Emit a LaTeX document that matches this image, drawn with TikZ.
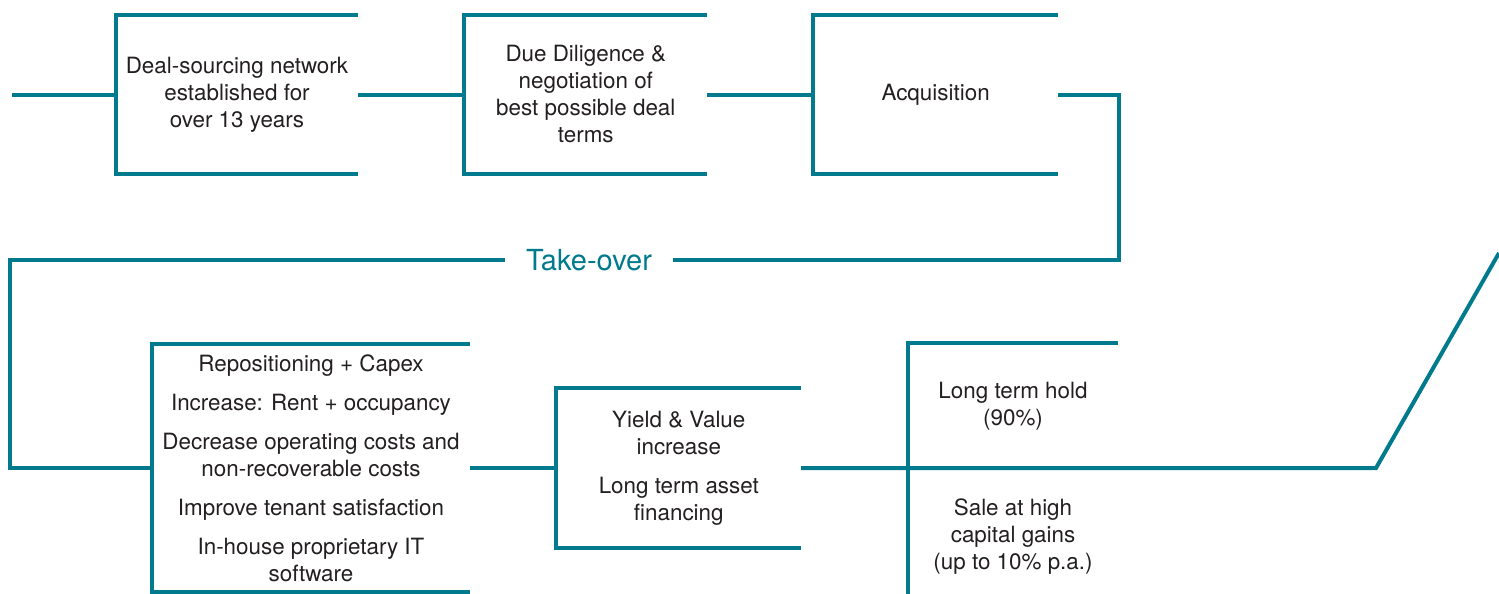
\documentclass[tikz,border=0pt]{standalone}
\usepackage{fontspec}
\setmainfont{TeX Gyre Heros}
\usetikzlibrary{positioning}

\definecolor{flowteal}{RGB}{0,122,140}
\definecolor{textgrey}{RGB}{35,31,32}

\begin{document}
\begin{tikzpicture}[x=0.5pt,y=-0.5pt,
    flow/.style={draw=flowteal,line width=2pt},
    stage/.style={minimum width=121pt,minimum height=79.5pt,inner sep=0pt,
        align=center,text=textgrey,font=\fontsize{11.2}{13.5}\selectfont},
    label/.style={inner sep=0pt,align=center,text=textgrey,
        font=\fontsize{11.2}{13.5}\selectfont}]
    \useasboundingbox (0,0) rectangle (1499,594);

    % top row
    \node[stage] (deal) at (237,94.5) {Deal-sourcing network\\ established for\\ over 13 years};
    \node[stage,right=53pt of deal] (diligence) {Due Diligence \&\\ negotiation of\\ best possible deal\\ terms};
    \node[stage,minimum width=122pt,right=53pt of diligence] (acquisition) {Acquisition};

    % take-over
    \node[inner sep=0pt,minimum width=84pt,text=flowteal,font=\fontsize{14.5}{17}\selectfont] (takeover) at (589,260) {Take-over};

    % bottom row
    \node[stage,minimum width=159pt,minimum height=124pt] (valueadd) at (311,468)
        {Repositioning + Capex\\[6pt]
         Increase: Rent + occupancy\\[6pt]
         Decrease operating costs and\\ non-recoverable costs\\[6pt]
         Improve tenant satisfaction\\[6pt]
         In-house proprietary IT\\ software};
    \node[stage,minimum width=122pt,right=43pt of valueadd] (yield)
        {Yield \& Value\\ increase\\[6pt] Long term asset\\ financing};
    \node[label,minimum width=105pt,minimum height=63pt] (hold) at (1013,406) {Long term hold\\ (90\%)};
    \node[label,minimum width=105pt,minimum height=57pt] (sale) at (1013,537) {Sale at high\\ capital gains\\ (up to 10\% p.a.)};

    \coordinate (start) at (12,94.5);
    \coordinate (turnR) at (1119,260);
    \coordinate (turnL) at (10,260);
    \coordinate (kink) at (1376,468);
    \coordinate (exit) at (1499,253);

    % brackets
    \foreach \b in {deal,diligence,acquisition,valueadd,yield}
        \draw[flow] (\b.north east) -- (\b.north west) -- (\b.south west) -- (\b.south east);
    \draw[flow] (hold.north east) -- (hold.north west) -- (sale.south west);

    % connectors
    \draw[flow] (start) -- (deal.west);
    \draw[flow] (deal.east) -- (diligence.west);
    \draw[flow] (diligence.east) -- (acquisition.west);
    \draw[flow] (acquisition.east) -| (turnR) -- (takeover.east);
    \draw[flow] (takeover.west) -- (turnL) |- (valueadd.west);
    \draw[flow] (valueadd.east) -- (yield.west);
    \draw[flow] (yield.east) -- (kink) -- (exit);
\end{tikzpicture}
\end{document}
